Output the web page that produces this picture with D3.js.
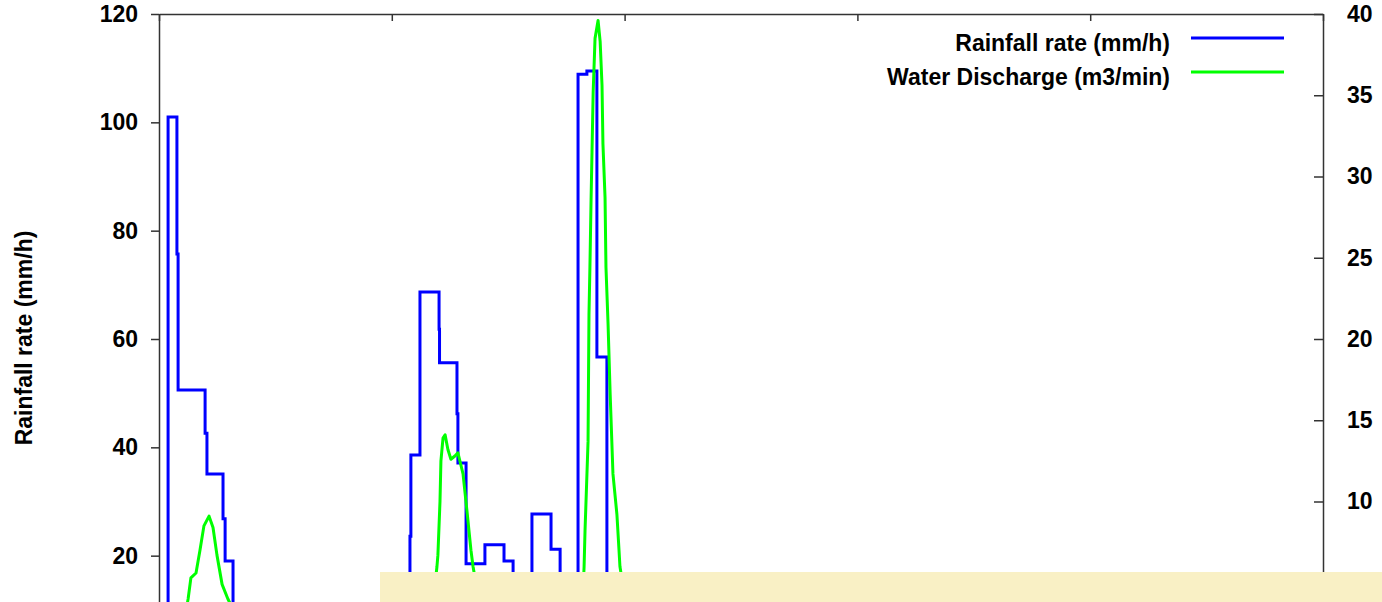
<html>

<head>
    <script src="https://cdn.jsdelivr.net/npm/d3@7/dist/d3.min.js"></script>
    <style>
        body {
            margin: 0;
            background: #fff;
        }

        svg text {
            font-family: "Liberation Sans", Arial, sans-serif;
            font-weight: bold;
            fill: #000;
        }
    </style>
</head>

<body>
    <script>
        // rainfall rate, step series (minutes, mm/h)
        var rainTime = [0, 3.9, 7.7, 8.2, 19.8, 20.6, 27.5, 28.4, 31.8, 36, 42, 107.8, 108.2, 112.1, 120.3, 120.5,
            128.0, 128.4, 131.9, 140.0, 148.2, 152.1, 156, 160.2, 168.4, 172.3, 176, 180.0, 183.8, 188.1, 192.4, 198, 205, 500];
        var rainRate = [0, 101, 75.7, 50.6, 42.6, 35.1, 26.8, 19.0, 9, 4, 0, 23.6, 38.6, 68.7, 61.8, 55.6,
            46.2, 37.1, 18.5, 22.0, 19.0, 9, 4, 27.7, 21.2, 8, 3, 108.9, 109.5, 56.7, 10, 4, 0, 0];

        // water discharge (minutes, m3/min)
        var flowTime = [0, 8, 10.7, 12.5, 13.7, 15.9, 17.6, 19.3, 21.5, 23.2, 24.9, 27.1, 29.6, 33.1, 39, 52, 69, 90, 110,
            116.4, 119.4, 119.8, 120.7, 121.1, 122.0, 122.9, 124.1, 125.4, 127.1, 128.4, 130.6, 132.3, 134.0, 134.9, 137.9,
            146.5, 163.7, 181, 182.6, 183.0, 184.3, 184.7, 185.1, 185.6, 186.0, 186.5, 187.3, 188.6, 189.5, 190.3, 190.7,
            191.6, 192.0, 192.9, 193.8, 195.0, 196.7, 197.6, 198.0, 200.2, 206.6, 223.8, 258, 300, 500];
        var flowRate = [0, 0, 2.5, 4.0, 5.3, 5.6, 7.0, 8.5, 9.1, 8.4, 6.7, 4.9, 4.0, 3.0, 2.0, 1.0, 0.5, 0.2, 0.3,
            2, 6.0, 6.7, 10.0, 12.5, 13.9, 14.1, 13.2, 12.6, 12.8, 13.0, 11.7, 9.4, 7.0, 6.0, 3.5,
            2, 1.0, 0.5, 6.0, 8.2, 13.7, 21.5, 24.4, 28.6, 31.5, 35.2, 38.5, 39.6, 38.3, 35.6, 32,
            28.7, 24.4, 20.9, 16.6, 11.7, 9.2, 7.0, 6.0, 4, 2.5, 1, 0.3, 0, 0];

        // the 0 ticks fall below the visible picture
        var leftTicks = [20, 40, 60, 80, 100, 120];
        var rightTicks = [5, 10, 15, 20, 25, 30, 35, 40];
        var timeTicks = [0, 100, 200, 300, 400, 500];
        var seriesNames = ['Rainfall rate (mm/h)', 'Water Discharge (m3/min)'];
        var seriesColors = ['#0000ff', '#00ff00'];

        var w = 1382, h = 602;
        var plotLeft = 159, plotRight = 1323, plotTop = 14, plotBottom = 664;
        var fontSize = 23;

        var svg = d3.select('body')
            .append('svg')
            .attr('width', w)
            .attr('height', h);

        var x = d3.scaleLinear().domain([0, 500]).range([plotLeft, plotRight]);
        var yL = d3.scaleLinear().domain([0, 120]).range([plotBottom, plotTop]);
        var yR = d3.scaleLinear().domain([0, 40]).range([plotBottom, plotTop]);

        var rain = d3.zip(rainTime, rainRate);
        var flow = d3.zip(flowTime, flowRate);

        var rainLine = d3.line()
            .x((d) => x(d[0]))
            .y((d) => yL(d[1]))
            .curve(d3.curveStepAfter);

        var flowLine = d3.line()
            .x((d) => x(d[0]))
            .y((d) => yR(d[1]));

        svg.append('path')
            .attr('d', rainLine(rain))
            .attr('fill', 'none')
            .attr('stroke', seriesColors[0])
            .attr('stroke-width', 3);

        svg.append('path')
            .attr('d', flowLine(flow))
            .attr('fill', 'none')
            .attr('stroke', seriesColors[1])
            .attr('stroke-width', 3)
            .attr('stroke-linejoin', 'round');

        // axes
        function styleAxis(g) {
            g.selectAll('path, line').attr('stroke', '#333').attr('stroke-width', 1.5);
            g.selectAll('text').attr('font-size', fontSize).attr('font-family', null);
        }

        svg.append('g')
            .attr('transform', 'translate(0,' + plotTop + ')')
            .call(d3.axisBottom(x).tickValues(timeTicks).tickSizeInner(7).tickSizeOuter(0).tickFormat(''))
            .call(styleAxis);

        svg.append('g')
            .attr('transform', 'translate(' + plotLeft + ',0)')
            .call(d3.axisLeft(yL).tickValues(leftTicks).tickSizeInner(8).tickSizeOuter(0).tickPadding(13))
            .call(styleAxis);

        svg.append('g')
            .attr('transform', 'translate(' + plotRight + ',0)')
            .call(d3.axisRight(yR).tickValues(rightTicks).tickSizeInner(-9).tickSizeOuter(0).tickPadding(24))
            .call(styleAxis);

        svg.append('text')
            .attr('transform', 'translate(32,338) rotate(-90)')
            .attr('text-anchor', 'middle')
            .attr('font-size', fontSize)
            .text(seriesNames[0]);

        // legend
        var legend = svg.append('g')
            .selectAll('g')
            .data(seriesNames)
            .enter()
            .append('g')
            .attr('transform', (d, i) => 'translate(0,' + (38 + i * 34) + ')');

        legend.append('text')
            .attr('x', 1170)
            .attr('y', 13)
            .attr('text-anchor', 'end')
            .attr('font-size', fontSize)
            .text((d) => d);

        legend.append('line')
            .attr('x1', 1191)
            .attr('x2', 1284)
            .attr('stroke', (d, i) => seriesColors[i])
            .attr('stroke-width', 3);

        // pale box over the bottom of the picture
        svg.append('rect')
            .attr('x', 380)
            .attr('y', 572)
            .attr('width', w - 380)
            .attr('height', h - 572)
            .attr('fill', '#f9f0c5');
    </script>
</body>

</html>
